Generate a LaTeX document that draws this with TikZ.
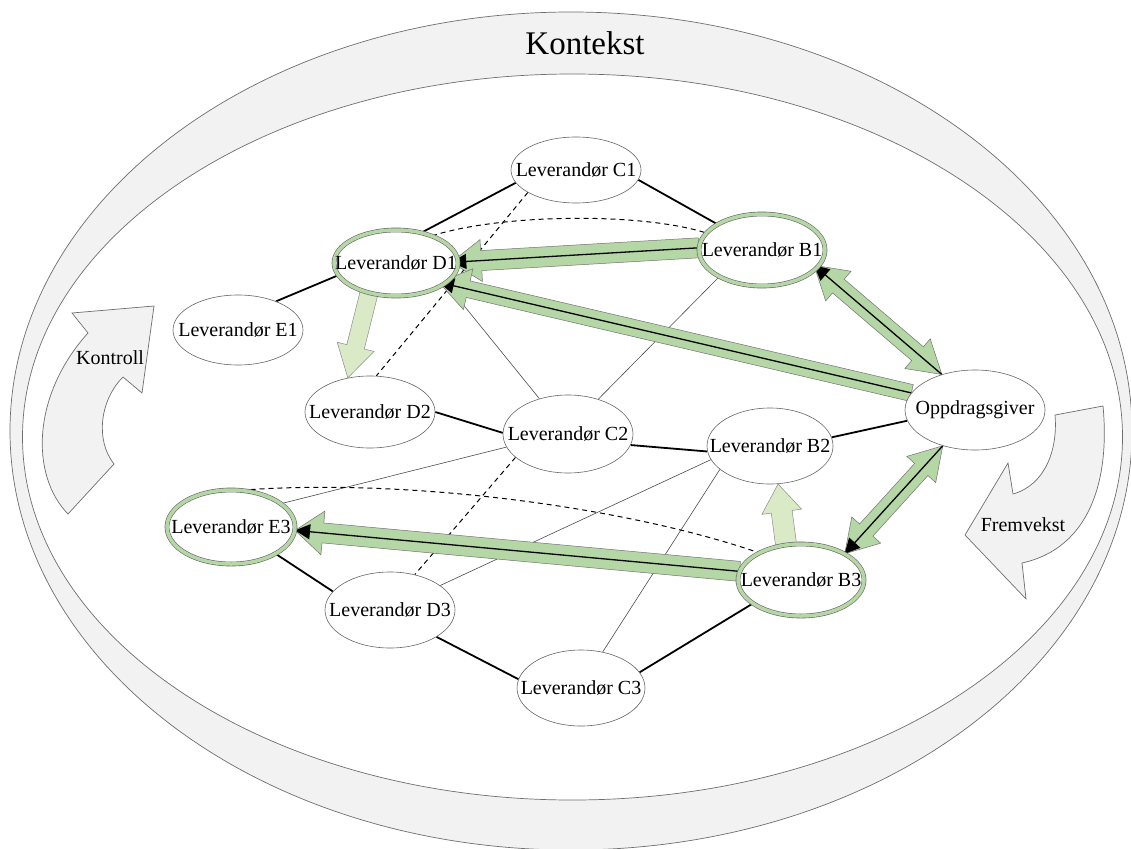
\documentclass[tikz,border=0pt]{standalone}
\usepackage{fontspec}
\setmainfont{Liberation Serif}
\usetikzlibrary{shapes.geometric,calc,arrows.meta}
\pgfdeclarelayer{back}
\pgfdeclarelayer{links}
\pgfsetlayers{back,links,main}

\definecolor{ringfill}{RGB}{242,242,242}
\definecolor{ringline}{RGB}{110,110,110}
\definecolor{flowgreen}{RGB}{181,215,166}
\definecolor{palegreen}{RGB}{218,233,198}

% a name set in a box of no width, so the ellipse keeps its given size
\newcommand{\actorname}[1]{\makebox[0pt][c]{#1}}

% block arrow: tail, tip, shaft half width, head half width, head length, style
\newcommand{\blockarrow}[6]{%
  \coordinate (hb) at ($(#2)!#5!(#1)$);
  \path[#6] ($(#1)!#3!90:(#2)$) -- ($(hb)!#3!90:(#2)$) -- ($(hb)!#4!90:(#2)$)
    -- (#2) -- ($(hb)!#4!-90:(#2)$) -- ($(hb)!#3!-90:(#2)$) -- ($(#1)!#3!-90:(#2)$) -- cycle;
}
% block arrow with a head at both ends
\newcommand{\twowayarrow}[6]{%
  \coordinate (hb) at ($(#2)!#5!(#1)$);
  \coordinate (ha) at ($(#1)!#5!(#2)$);
  \path[#6] (#1) -- ($(ha)!#4!90:(#2)$) -- ($(ha)!#3!90:(#2)$) -- ($(hb)!#3!90:(#2)$)
    -- ($(hb)!#4!90:(#2)$) -- (#2) -- ($(hb)!#4!-90:(#2)$) -- ($(hb)!#3!-90:(#2)$)
    -- ($(ha)!#3!-90:(#2)$) -- ($(ha)!#4!-90:(#2)$) -- cycle;
}

\tikzset{
  ring/.style={fill=ringfill, draw=ringline, line width=0.7pt},
  supplier/.style={ellipse, draw=black!60, line width=0.6pt, fill=white, inner sep=0pt,
    font=\fontsize{20}{24}\selectfont},
  keysupplier/.style={supplier, double=flowgreen, double distance=3.5pt},
  thickedge/.style={draw=black, line width=1.8pt},
  thinedge/.style={draw=black!70, line width=0.6pt},
  dashedge/.style={draw=black, line width=1pt, dash pattern=on 5pt off 4pt},
  flowarrow/.style={fill=flowgreen, draw=black!55, line width=0.5pt},
  palearrow/.style={fill=palegreen, draw=black!45, line width=0.5pt},
  innerline/.style={draw=black, line width=1.3pt, -{Triangle[length=15pt,width=15pt]}},
  label/.style={font=\fontsize{20}{24}\selectfont, inner sep=0pt},
}

\begin{document}
\begin{tikzpicture}[x=1pt,y=-1pt]
\useasboundingbox (0,0) rectangle (1131,848);

% context ring and the two curved arrows
\begin{pgfonlayer}{back}
  \fill[white] (0,0) rectangle (1131,848);
  \draw[ring] (571,431) ellipse [x radius=561pt, y radius=419pt];
  \draw[ring, fill=white] (572.5,437) ellipse [x radius=550pt, y radius=363pt];
  \node[font=\fontsize{33}{38}\selectfont, inner sep=0pt] (ctx) at (585,43) {Kontekst};

  \draw[ring] (68,514) -- (114,464) .. controls (95,440) and (100,400) .. (123,377)
    -- (142,393) -- (154,306) -- (72,313) -- (88,333)
    .. controls (32,395) and (30,475) .. (68,514) -- cycle;
  \node[label] (ctrl) at (110,358) {Kontroll};

  \draw[ring] (1055,415) -- (1103,406) .. controls (1110,480) and (1090,548) .. (1022,563)
    -- (1026,599) -- (965,535) -- (1008,463) -- (1013,494)
    .. controls (1045,485) and (1058,450) .. (1055,415) -- cycle;
  \node[label] (emerg) at (1023,525) {Fremvekst};
\end{pgfonlayer}

% actors
\node[supplier, minimum width=130pt, minimum height=66pt] (C1) at (576,170) {\actorname{Leverandør C1}};
\node[keysupplier, minimum width=126pt, minimum height=72pt] (B1) at (762,250) {\actorname{Leverandør B1}};
\node[keysupplier, minimum width=124pt, minimum height=66pt] (D1) at (396,263) {\actorname{Leverandør D1}};
\node[supplier, minimum width=130pt, minimum height=70pt] (E1) at (238,330) {\actorname{Leverandør E1}};
\node[supplier, minimum width=130pt, minimum height=72pt] (D2) at (370,412) {\actorname{Leverandør D2}};
\node[supplier, minimum width=130pt, minimum height=78pt] (C2) at (568,434) {\actorname{Leverandør C2}};
\node[supplier, minimum width=126pt, minimum height=76pt] (B2) at (770,446) {\actorname{Leverandør B2}};
\node[supplier, minimum width=140pt, minimum height=80pt] (Opp) at (975,410) {\actorname{Oppdragsgiver}};
\node[keysupplier, minimum width=128pt, minimum height=74pt] (E3) at (231,527) {\actorname{Leverandør E3}};
\node[supplier, minimum width=130pt, minimum height=76pt] (D3) at (390,610) {\actorname{Leverandør D3}};
\node[keysupplier, minimum width=126pt, minimum height=72pt] (B3) at (801,580) {\actorname{Leverandør B3}};
\node[supplier, minimum width=128pt, minimum height=76pt] (C3) at (581,688) {\actorname{Leverandør C3}};

\begin{pgfonlayer}{links}
  % strong ties
  \draw[thickedge] (E1.37) -- (D1.192);
  \draw[thickedge] (D1.50) -- (C1.192);
  \draw[thickedge] (C1.-9) -- (B1.150);
  \draw[thickedge] (D2.0) -- (C2.179);
  \draw[thickedge] (C2.-10) -- (B2.185);
  \draw[thickedge] (B2.8) -- (Opp.189);
  \draw[thickedge] (E3.-31) -- (D3.162);
  \draw[thickedge] (D3.-30) -- (C3.172);
  \draw[thickedge] (C3.15) -- (B3.206);
  % weak ties
  \draw[thinedge] (D1.-22) -- (C2.129);
  \draw[thinedge] (B1.212) -- (C2.49);
  \draw[thinedge] (C2.192) -- (E3.25);
  \draw[thinedge] (B2.193) -- (D3.26);
  \draw[thinedge] (B2.205) -- (C3.59);
  % latent ties
  \draw[dashedge] (C1.205) -- (D2.80);
  \draw[dashedge] (C2.204) -- (D3.55);
  \draw[dashedge] (D1.37) .. controls (500,214) and (640,212) .. (B1.163);
  \draw[dashedge] (E3.74) .. controls (400,478) and (620,505) .. (B3.147);

  % flows between actors
  \coordinate (a1t) at (B1.178);
  \coordinate (a1h) at ($(D1.1)!-7pt!(B1.178)$);
  \blockarrow{a1t}{a1h}{10pt}{21pt}{30pt}{flowarrow}
  \draw[innerline] (a1t) -- (a1h);

  \coordinate (a2t) at (Opp.165);
  \coordinate (a2h) at ($(D1.-23)!-6pt!(Opp.165)$);
  \blockarrow{a2t}{a2h}{8.5pt}{21pt}{30pt}{flowarrow}
  \draw[innerline] (a2t) -- (a2h);

  \coordinate (a3a) at ($(B1.-18)!-4pt!(Opp.133)$);
  \coordinate (a3b) at (Opp.133);
  \twowayarrow{a3a}{a3b}{9pt}{19.5pt}{32pt}{flowarrow}
  \draw[innerline] (a3b) -- (a3a);

  \coordinate (a4a) at (Opp.228);
  \coordinate (a4b) at (B3.31);
  \twowayarrow{a4a}{a4b}{9pt}{19.5pt}{32pt}{flowarrow}
  \draw[innerline] (a4a) -- (a4b);

  \coordinate (a5t) at (B3.172);
  \coordinate (a5h) at (E3.-3);
  \blockarrow{a5t}{a5h}{10pt}{22pt}{28pt}{flowarrow}
  \draw[innerline] (a5t) -- (a5h);

  \coordinate (a6t) at (D1.228);
  \coordinate (a6h) at (D2.123);
  \blockarrow{a6t}{a6h}{9pt}{19pt}{32pt}{palearrow}

  \coordinate (a7t) at (B3.113);
  \coordinate (a7h) at (B2.-78);
  \blockarrow{a7t}{a7h}{10.5pt}{20pt}{28pt}{palearrow}
\end{pgfonlayer}
\end{tikzpicture}
\end{document}
